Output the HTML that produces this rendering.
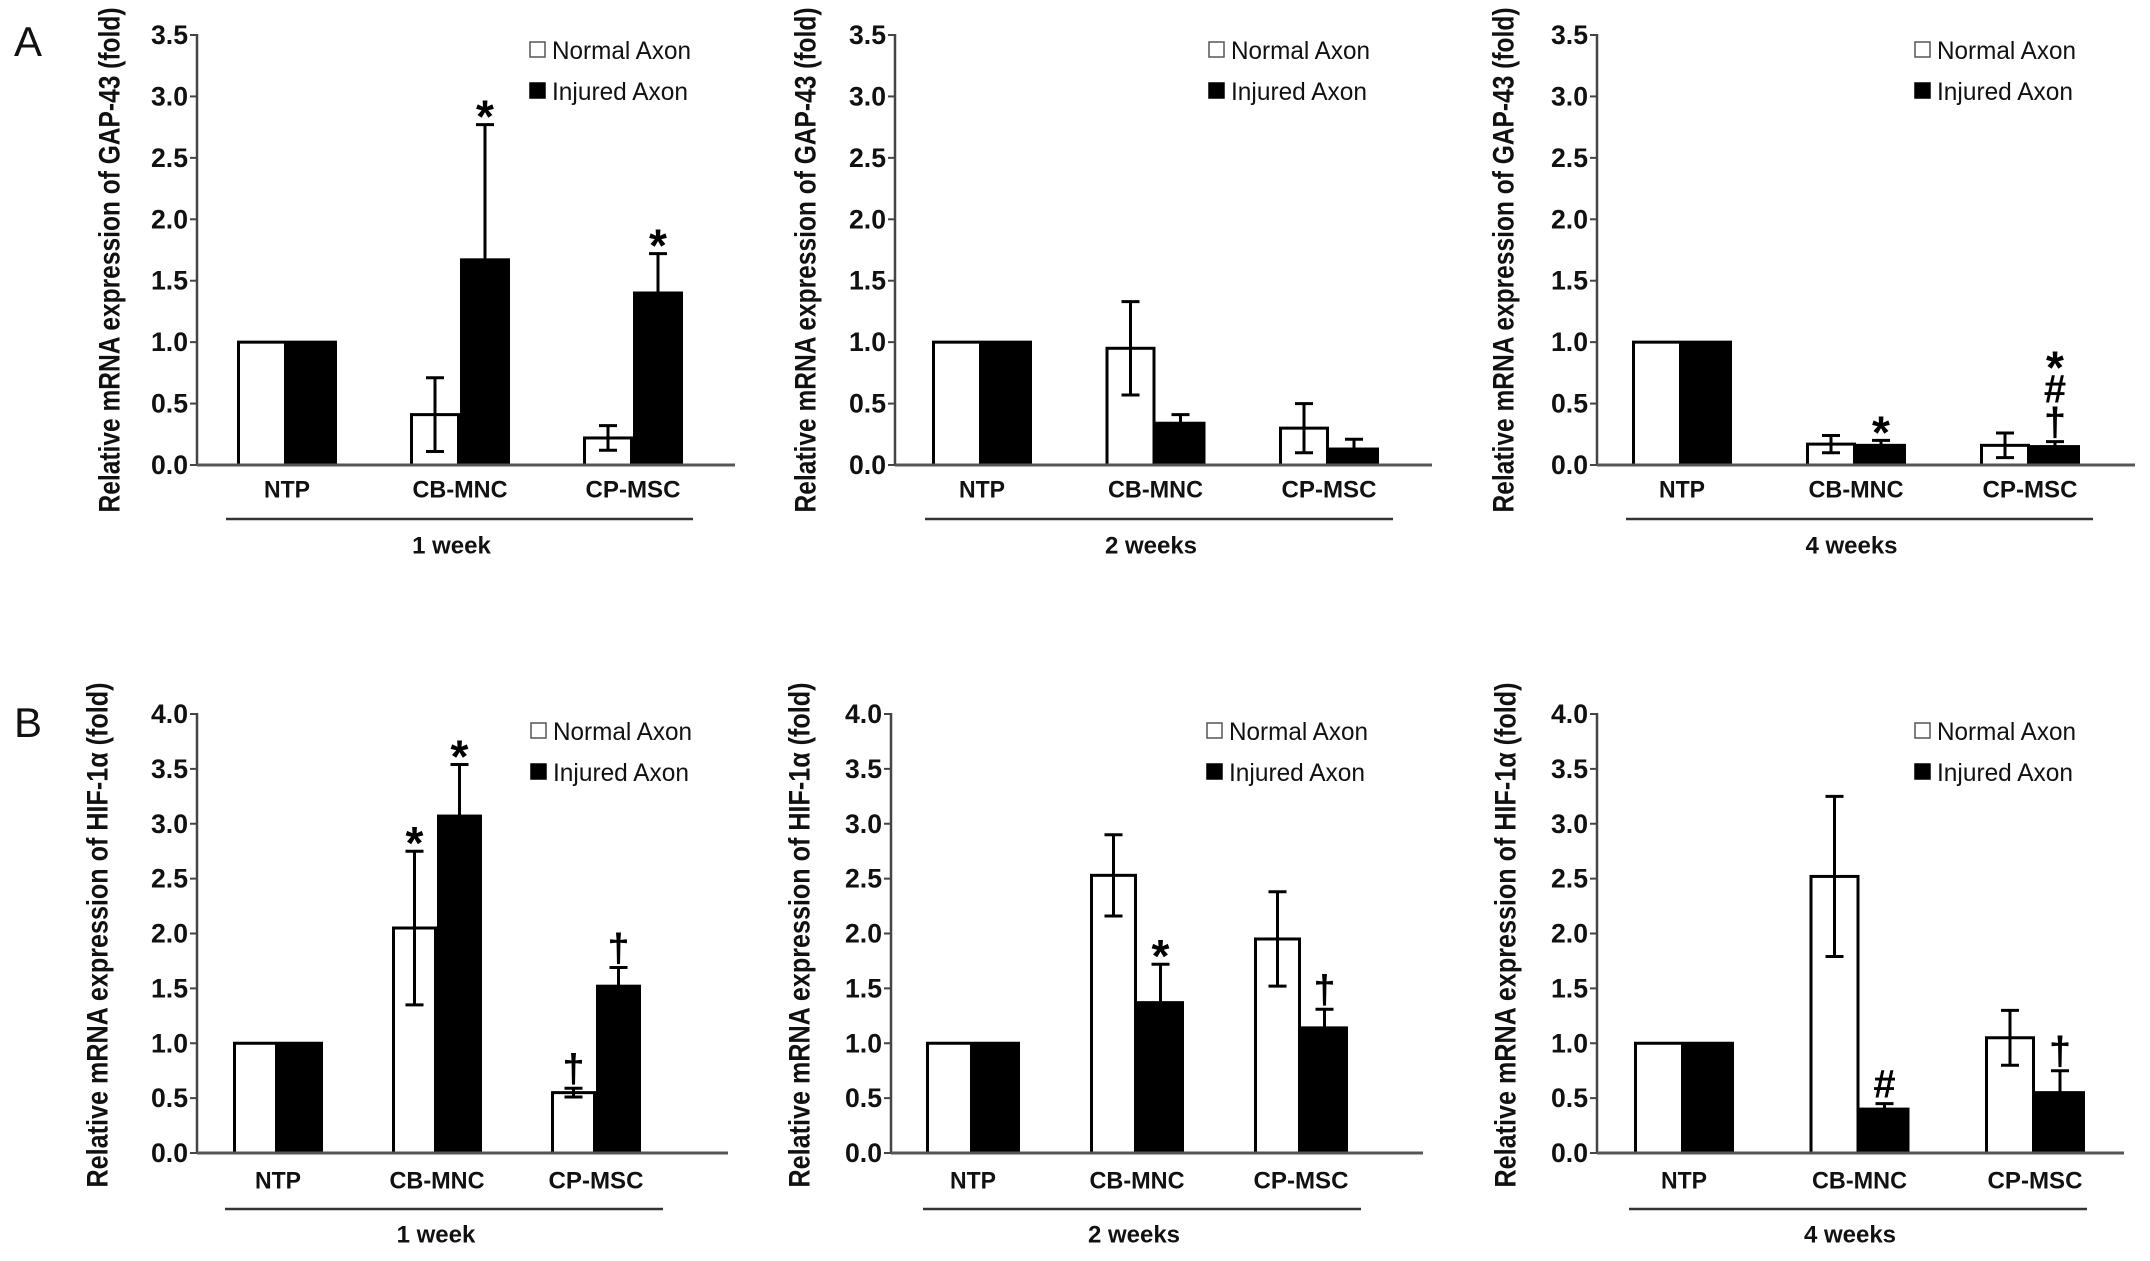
<!DOCTYPE html>
<html><head><meta charset="utf-8">
<style>
html,body{margin:0;padding:0;background:#fff;}
svg{display:block;}
text{font-family:"Liberation Sans",Arial,sans-serif;}
</style></head>
<body>
<svg id="fig" width="2150" height="1261" viewBox="0 0 2150 1261" xmlns="http://www.w3.org/2000/svg">
<text x="14" y="56" font-size="42" fill="#111">A</text>
<text x="14" y="737" font-size="42" fill="#111">B</text>
</svg>
<script>
// ---- data ----
const categories = ["NTP", "CB-MNC", "CP-MSC"];
const periods = ["1 week", "2 weeks", "4 weeks"];
const seriesNames = ["Normal Axon", "Injured Axon"];
const ticksA = ["0.0","0.5","1.0","1.5","2.0","2.5","3.0","3.5"];
const ticksB = ["0.0","0.5","1.0","1.5","2.0","2.5","3.0","3.5","4.0"];

// GAP-43 (row A)
const gapNormal1w = [1.0, 0.41, 0.22];
const gapNormalErr1w = [0, 0.30, 0.10];
const gapInjured1w = [1.0, 1.67, 1.40];
const gapInjuredErr1w = [0, 1.10, 0.32];
const gapNormal2w = [1.0, 0.95, 0.30];
const gapNormalErr2w = [0, 0.38, 0.20];
const gapInjured2w = [1.0, 0.34, 0.13];
const gapInjuredErr2w = [0, 0.07, 0.08];
const gapNormal4w = [1.0, 0.17, 0.16];
const gapNormalErr4w = [0, 0.07, 0.10];
const gapInjured4w = [1.0, 0.16, 0.15];
const gapInjuredErr4w = [0, 0.04, 0.04];

// HIF-1a (row B)
const hifNormal1w = [1.0, 2.05, 0.55];
const hifNormalErr1w = [0, 0.70, 0.04];
const hifInjured1w = [1.0, 3.07, 1.52];
const hifInjuredErr1w = [0, 0.47, 0.17];
const hifNormal2w = [1.0, 2.53, 1.95];
const hifNormalErr2w = [0, 0.37, 0.43];
const hifInjured2w = [1.0, 1.37, 1.14];
const hifInjuredErr2w = [0, 0.35, 0.17];
const hifNormal4w = [1.0, 2.52, 1.05];
const hifNormalErr4w = [0, 0.73, 0.25];
const hifInjured4w = [1.0, 0.40, 0.55];
const hifInjuredErr4w = [0, 0.05, 0.20];

// significance marks
const gapMarksN1w = ["", "", ""], gapMarksI1w = ["", "*", "*"];
const gapMarksN2w = ["", "", ""], gapMarksI2w = ["", "", ""];
const gapMarksN4w = ["", "", ""], gapMarksI4w = ["", "*", "*#†"];
const hifMarksN1w = ["", "*", "†"], hifMarksI1w = ["", "*", "†"];
const hifMarksN2w = ["", "", ""], hifMarksI2w = ["", "*", "†"];
const hifMarksN4w = ["", "", ""], hifMarksI4w = ["", "#", "†"];

// ---- layout ----
const NS = "http://www.w3.org/2000/svg";
const svg = document.getElementById("fig");
function mk(tag, attrs, parent) {
  const e = document.createElementNS(NS, tag);
  for (const k in attrs) e.setAttribute(k, attrs[k]);
  (parent || svg).appendChild(e);
  return e;
}
const rowA = {y0: 465, yTop: 35, max: 3.5, ticks: ticksA, title: "Relative mRNA expression of GAP-43 (fold)", legY: 50, catY: 490, lineY: 519, perY: 546, labCY: 260};
const rowB = {y0: 1153, yTop: 714, max: 4.0, ticks: ticksB, title: "Relative mRNA expression of HIF-1α (fold)", legY: 731, catY: 1181, lineY: 1209, perY: 1235, labCY: 935};

const panels = [
  {row: rowA, id: "gap-1w", per: 0, ax: 197, axEnd: 735, c0: 287, step: 173, bw: 50, lx: [226, 693], legX: 529, ylx: 110,
   n: gapNormal1w, ne: gapNormalErr1w, i: gapInjured1w, ie: gapInjuredErr1w, mn: gapMarksN1w, mi: gapMarksI1w},
  {row: rowA, id: "gap-2w", per: 1, ax: 895, axEnd: 1432, c0: 982, step: 173.5, bw: 50, lx: [925, 1393], legX: 1208, ylx: 806,
   n: gapNormal2w, ne: gapNormalErr2w, i: gapInjured2w, ie: gapInjuredErr2w, mn: gapMarksN2w, mi: gapMarksI2w},
  {row: rowA, id: "gap-4w", per: 2, ax: 1597, axEnd: 2135, c0: 1682, step: 174, bw: 50, lx: [1626, 2093], legX: 1914, ylx: 1504,
   n: gapNormal4w, ne: gapNormalErr4w, i: gapInjured4w, ie: gapInjuredErr4w, mn: gapMarksN4w, mi: gapMarksI4w},
  {row: rowB, id: "hif-1w", per: 0, ax: 197, axEnd: 728, c0: 278, step: 159, bw: 45, lx: [225, 663], legX: 530, ylx: 98,
   n: hifNormal1w, ne: hifNormalErr1w, i: hifInjured1w, ie: hifInjuredErr1w, mn: hifMarksN1w, mi: hifMarksI1w},
  {row: rowB, id: "hif-2w", per: 1, ax: 891, axEnd: 1423, c0: 973, step: 164, bw: 47, lx: [923, 1361], legX: 1206, ylx: 800,
   n: hifNormal2w, ne: hifNormalErr2w, i: hifInjured2w, ie: hifInjuredErr2w, mn: hifMarksN2w, mi: hifMarksI2w},
  {row: rowB, id: "hif-4w", per: 2, ax: 1597, axEnd: 2124, c0: 1684, step: 175.5, bw: 50, lx: [1629, 2087], legX: 1914, ylx: 1506,
   n: hifNormal4w, ne: hifNormalErr4w, i: hifInjured4w, ie: hifInjuredErr4w, mn: hifMarksN4w, mi: hifMarksI4w}
];

panels.forEach(p => {
  const r = p.row;
  const g = mk("g", {});
  
  
  const yS = v => r.y0 - v * (r.y0 - r.yTop) / r.max;
  const xS = i => p.c0 + i * p.step;

  const yt = mk("text", {x: 0, y: 0, transform: `translate(${p.ylx},${r.labCY}) rotate(-90)`, "text-anchor": "middle", "dominant-baseline": "central", "font-size": 30, "font-weight": "bold", fill: "#111", textLength: 505, lengthAdjust: "spacingAndGlyphs"}, g);
  yt.textContent = r.title;
  
  

  r.ticks.forEach(t => {
    const y = yS(parseFloat(t));
    const tk = mk("line", {x1: p.ax - 7, x2: p.ax, y1: y, y2: y, stroke: "#444", "stroke-width": 2}, g);
    
    
    const tl = mk("text", {x: p.ax - 9, y: y, "text-anchor": "end", "dominant-baseline": "central", "font-size": 27, "font-weight": "bold", fill: "#111", textLength: 37, lengthAdjust: "spacingAndGlyphs"}, g);
    tl.textContent = t;
    
    
  });

  categories.forEach((c, k) => {
    const cx = xS(k);
    const specs = [
      {v: p.n[k], e: p.ne[k], x: cx - p.bw, fill: "#fff", m: p.mn[k], nm: 'bar-normal-'},
      {v: p.i[k], e: p.ie[k], x: cx, fill: "#000", m: p.mi[k], nm: 'bar-injured-'}
    ];
    specs.forEach(s => {
      const top = yS(s.v);
      const b = mk("rect", {x: s.x + 1.5, y: top, width: p.bw - 3, height: r.y0 - top, fill: s.fill, stroke: "#000", "stroke-width": 3}, g);
      
      
      const bx = s.x + p.bw / 2;
      let topY = top;
      if (s.e > 0) {
        const hi = yS(s.v + s.e), lo = yS(Math.max(0, s.v - s.e));
        const eb = mk("path", {d: `M${bx},${lo}V${hi}M${bx - 9},${hi}H${bx + 9}M${bx - 9},${lo}H${bx + 9}`, stroke: "#000", "stroke-width": 3, fill: "none"}, g);
        
        
        topY = hi;
      }
      if (s.m) {
        const chars = s.m.split("").reverse();
        chars.forEach((ch, j) => {
          const base = topY - 6 - j * 33;
          const isStar = ch === "*";
          const mt = mk("text", {x: bx, y: isStar ? base + 14 : base, "text-anchor": "middle", "font-size": isStar ? 46 : 40, "font-weight": "bold", fill: "#000"}, g);
          mt.textContent = ch;
          
          
        });
      }
    });
    const cl = mk("text", {x: cx, y: r.catY, "text-anchor": "middle", "dominant-baseline": "central", "font-size": 24, "font-weight": "bold", fill: "#111", textLength: c === "NTP" ? 46 : 95, lengthAdjust: "spacingAndGlyphs"}, g);
    cl.textContent = c;
    
    
  });

  const ya = mk("line", {x1: p.ax, x2: p.ax, y1: r.yTop - 1, y2: r.y0, stroke: "#444", "stroke-width": 2.5}, g);
  
  
  const xa = mk("line", {x1: p.ax, x2: p.axEnd, y1: r.y0, y2: r.y0, stroke: "#555", "stroke-width": 3}, g);
  
  

  const pl = mk("line", {x1: p.lx[0], x2: p.lx[1], y1: r.lineY, y2: r.lineY, stroke: "#333", "stroke-width": 2.5}, g);
  
  
  const pt = mk("text", {x: (p.lx[0] + p.lx[1]) / 2 - 8, y: r.perY, "text-anchor": "middle", "dominant-baseline": "central", "font-size": 24, "font-weight": "bold", fill: "#111"}, g);
  pt.textContent = periods[p.per];
  
  

  seriesNames.forEach((s, k) => {
    const ly = r.legY + k * 41;
    const sq = mk("rect", {x: p.legX + 1, y: ly - 8, width: 15, height: 15, fill: k ? "#000" : "#fff", stroke: k ? "#000" : "#555", "stroke-width": 1.5}, g);
    
    
    const lt = mk("text", {x: p.legX + 23, y: ly + 1, "dominant-baseline": "central", "font-size": 25, fill: "#111", textLength: k ? 136 : 139, lengthAdjust: "spacingAndGlyphs"}, g);
    lt.textContent = s;
    
    
  });
});
</script>
</body></html>
